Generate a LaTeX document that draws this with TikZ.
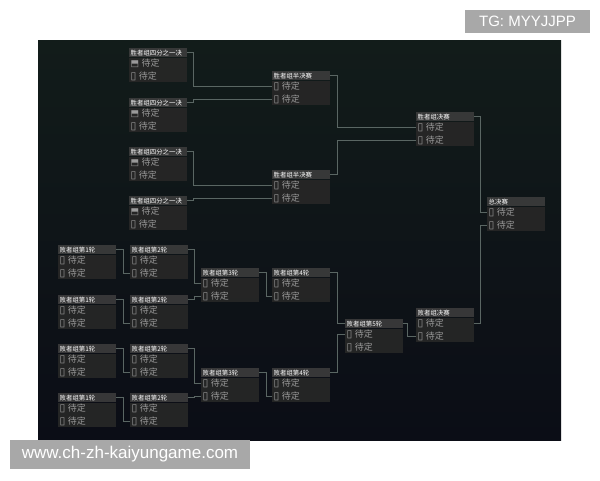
\documentclass[tikz,border=0pt]{standalone}
\usepackage{fontspec}
\setmainfont{Liberation Sans}
\newfontfamily\cjk{Noto Sans CJK SC}
\newfontfamily\symf{DejaVu Sans}
\definecolor{bgtop}{HTML}{121C1A}
\definecolor{bgmid}{HTML}{1A2925}
\definecolor{bgbot}{HTML}{0B0D16}
\definecolor{barc}{HTML}{3A3A3A}
\definecolor{bodyc}{HTML}{272727}
\definecolor{rowtxt}{HTML}{9A9A9A}
\definecolor{linec}{HTML}{5A6663}
\definecolor{wmgray}{HTML}{A8A8A8}
\newcommand\sq{{\symf\fontsize{10.5}{10}\selectfont ▯}}
\newcommand\sqf{{\symf\fontsize{9}{10}\selectfont ⬒}}
\newcommand\matchbox[5][\sq]{%
  \node[tbar] (#2t) at (#3,#4) {#5};
  \node[rowb] (#2a) at (#2t.south west) {#1\hspace{2.5pt}待定};
  \node[rowb] (#2b) at (#2a.south west) {\sq\hspace{2.5pt}待定};
}
\begin{document}
\begin{tikzpicture}[x=1pt,y=-1pt,
  tbar/.style={anchor=north west, fill=barc, fill opacity=0.95, text opacity=1,
    minimum width=58pt, text width=55pt, inner xsep=1.5pt, inner ysep=0pt,
    minimum height=9pt, align=left, text=white,
    font=\cjk\fontsize{6.4}{7}\selectfont},
  rowb/.style={anchor=north west, fill=bodyc, fill opacity=0.92, text opacity=1,
    minimum width=58pt, text width=55pt, inner xsep=1.5pt, inner ysep=0pt,
    minimum height=12pt, align=left, text=rowtxt,
    font=\cjk\fontsize{9}{10}\selectfont},
  conn/.style={draw=linec, line width=0.7pt},
  wm/.style={fill=wmgray, text=white, inner sep=0pt}]
\useasboundingbox (0,0) rectangle (600,480);
\fill[white] (0,0) rectangle (600,480);
\shade[top color=bgtop, middle color=bgmid, bottom color=bgbot] (38,40) rectangle (561,440);
% winners bracket
\matchbox[\sqf]{qfa}{129}{48}{胜者组四分之一决}
\matchbox[\sqf]{qfb}{129}{98}{胜者组四分之一决}
\matchbox[\sqf]{qfc}{129}{147}{胜者组四分之一决}
\matchbox[\sqf]{qfd}{129}{196}{胜者组四分之一决}
\matchbox{sfa}{272}{71}{胜者组半决赛}
\matchbox{sfb}{272}{170}{胜者组半决赛}
\matchbox{wf}{416}{112}{胜者组决赛}
\matchbox{gf}{487}{197}{总决赛}
% losers bracket
\matchbox{laa}{58}{245}{败者组第1轮}
\matchbox{lab}{58}{295}{败者组第1轮}
\matchbox{lac}{58}{344}{败者组第1轮}
\matchbox{lad}{58}{393}{败者组第1轮}
\matchbox{lba}{130}{245}{败者组第2轮}
\matchbox{lbb}{130}{295}{败者组第2轮}
\matchbox{lbc}{130}{344}{败者组第2轮}
\matchbox{lbd}{130}{393}{败者组第2轮}
\matchbox{lca}{201}{268}{败者组第3轮}
\matchbox{lcb}{201}{368}{败者组第3轮}
\matchbox{lda}{272}{268}{败者组第4轮}
\matchbox{ldb}{272}{368}{败者组第4轮}
\matchbox{le}{345}{319}{败者组第5轮}
\matchbox{lf}{416}{308}{败者组决赛}
% connectors
\draw[conn] (qfat.east) -- ++(6,0) |- (sfaa.west);
\draw[conn] (qfbt.east) -- ++(6,0) |- (sfab.west);
\draw[conn] (qfct.east) -- ++(6,0) |- (sfba.west);
\draw[conn] (qfdt.east) -- ++(6,0) |- (sfbb.west);
\draw[conn] (sfat.east) -- ++(7,0) |- (wfa.west);
\draw[conn] (sfbt.east) -- ++(7,0) |- (wfb.west);
\draw[conn] (wft.east) -- ++(6,0) |- (gfa.west);
\draw[conn] (lfa.east) -- ++(6,0) |- (gfb.west);
\draw[conn] (laat.east) -- ++(7,0) |- (lbab.west);
\draw[conn] (labt.east) -- ++(7,0) |- (lbbb.west);
\draw[conn] (lact.east) -- ++(7,0) |- (lbcb.west);
\draw[conn] (ladt.east) -- ++(7,0) |- (lbdb.west);
\draw[conn] (lbat.east) -- ++(6,0) |- (lcaa.west);
\draw[conn] (lbbt.east) -- ++(6,0) |- (lcab.west);
\draw[conn] (lbct.east) -- ++(6,0) |- (lcba.west);
\draw[conn] (lbdt.east) -- ++(6,0) |- (lcbb.west);
\draw[conn] (lcat.east) -- ++(7,0) |- (ldab.west);
\draw[conn] (lcbt.east) -- ++(7,0) |- (ldbb.west);
\draw[conn] (ldat.east) -- ++(7,0) |- (let.west);
\draw[conn] (ldbt.east) -- ++(7,0) |- (lea.west);
\draw[conn] (let.east) -- ++(4,0) |- (lfb.west);
% watermarks
\node[wm, minimum width=125pt, minimum height=23pt, font=\fontsize{15}{17}\selectfont] (tg) at (527.5,21.5) {TG: MYYJJPP};
\node[wm, minimum width=240pt, minimum height=29pt, font=\fontsize{17}{19}\selectfont] (site) at (130,454.5) {www.ch-zh-kaiyungame.com};
\end{tikzpicture}
\end{document}
